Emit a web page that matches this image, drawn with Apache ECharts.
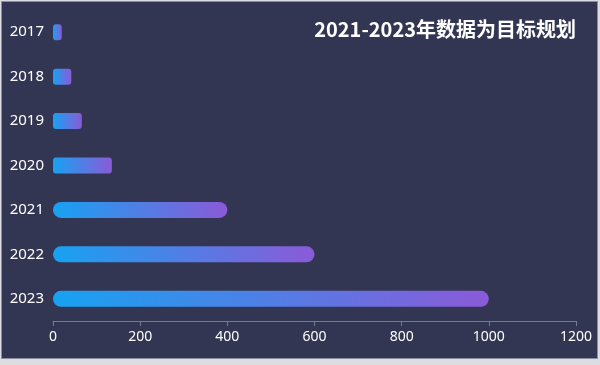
<!DOCTYPE html>
<html>
<head>
<meta charset="utf-8">
<script src="https://cdn.jsdelivr.net/npm/echarts@6/dist/echarts.min.js"></script>
<style>
html,body{margin:0;padding:0;background:#dcdde3;width:600px;height:365px;overflow:hidden;}
#frame{position:absolute;left:1px;top:1px;width:597px;height:358px;background:#8d8fa0;}
#c{position:absolute;left:1px;top:1px;width:595px;height:356px;}
</style>
</head>
<body>
<div id="frame"><div id="c"></div></div>
<script>
const categories = ['2017','2018','2019','2020','2021','2022','2023'];
const values = [20, 42, 66, 135, 400, 600, 1000];
const xTicks = [0, 200, 400, 600, 800, 1000, 1200];
const titleText = '2021-2023年数据为目标规划';

const chart = echarts.init(document.getElementById('c'));
const grad = new echarts.graphic.LinearGradient(0, 0, 1, 0, [
  {offset: 0, color: '#17a2f2'},
  {offset: 1, color: '#8b5ad8'}
]);
chart.setOption({
  backgroundColor: '#333652',
  animation: false,
  title: {
    text: titleText,
    right: 16, top: 12,
    textStyle: {color: '#ffffff', fontSize: 20, fontWeight: 'bold', fontFamily: 'Noto Sans CJK SC'}
  },
  grid: {left: 51, right: 21, top: 8, bottom: 37},
  xAxis: {
    type: 'value',
    min: xTicks[0], max: xTicks[xTicks.length - 1], interval: 200,
    splitLine: {show: false},
    axisLine: {show: true, lineStyle: {color: '#767a94'}},
    axisTick: {show: true, length: 5, lineStyle: {color: '#767a94'}},
    axisLabel: {color: '#ffffff', fontSize: 14, margin: 9, fontFamily: 'Noto Sans', formatter: v => String(v)}
  },
  yAxis: {
    type: 'category',
    data: categories,
    inverse: true,
    axisLine: {show: false},
    axisTick: {show: false},
    axisLabel: {color: '#ffffff', fontSize: 15, margin: 9, fontFamily: 'Noto Sans'}
  },
  series: [{
    type: 'bar',
    barWidth: 16,
    data: values.map(v => ({
      value: v,
      itemStyle: {color: grad, borderRadius: v > 300 ? 8 : 3}
    }))
  }]
});
</script>
</body>
</html>
